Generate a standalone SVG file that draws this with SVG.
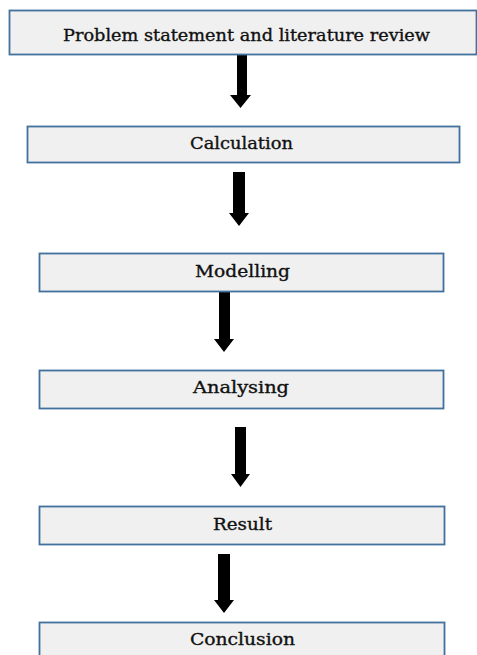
<svg xmlns="http://www.w3.org/2000/svg" width="477" height="655" viewBox="0 0 477 655">
<style>
.box{fill:#f0f0f0;stroke:#41719c;stroke-width:1.8}
.lbl{font-family:"DejaVu Serif","Liberation Serif",serif;font-size:16px;fill:#111;stroke:#111;stroke-width:0.35;text-anchor:middle}
.arr{fill:#000}
</style>
<rect width="477" height="655" fill="#fff"/>
<g id="connectors">
<polygon class="arr" points="237,54 247,54 247,95 251,95 240.5,108 230,95 237,95"/>
<polygon class="arr" points="233,172 245,172 245,213 249,213 239,226 229,213 233,213"/>
<polygon class="arr" points="219,292 230,292 230,339 234,339 224,352 214,339 219,339"/>
<polygon class="arr" points="235,427 246,427 246,474 250,474 240.5,487 231,474 235,474"/>
<polygon class="arr" points="218,554 230,554 230,600 234,600 224,613 214,600 218,600"/>
</g>
<g id="n1"><rect class="box" x="9.5" y="10.5" width="467" height="44"/><text class="lbl" x="246.5" y="41" textLength="367" lengthAdjust="spacingAndGlyphs">Problem statement and literature review</text></g>
<g id="n2"><rect class="box" x="27.5" y="126.5" width="432" height="36"/><text class="lbl" x="241.5" y="148.5" textLength="103" lengthAdjust="spacingAndGlyphs">Calculation</text></g>
<g id="n3"><rect class="box" x="39.5" y="253.5" width="404" height="38"/><text class="lbl" x="242.5" y="277" textLength="95" lengthAdjust="spacingAndGlyphs">Modelling</text></g>
<g id="n4"><rect class="box" x="39.5" y="370.5" width="404" height="38"/><text class="lbl" x="241" y="393" textLength="96" lengthAdjust="spacingAndGlyphs">Analysing</text></g>
<g id="n5"><rect class="box" x="39.5" y="506.5" width="405" height="38"/><text class="lbl" x="242.5" y="530" textLength="59" lengthAdjust="spacingAndGlyphs">Result</text></g>
<g id="n6"><rect class="box" x="39.5" y="622.5" width="405" height="40"/><text class="lbl" x="242.5" y="645" textLength="105" lengthAdjust="spacingAndGlyphs">Conclusion</text></g>
</svg>
